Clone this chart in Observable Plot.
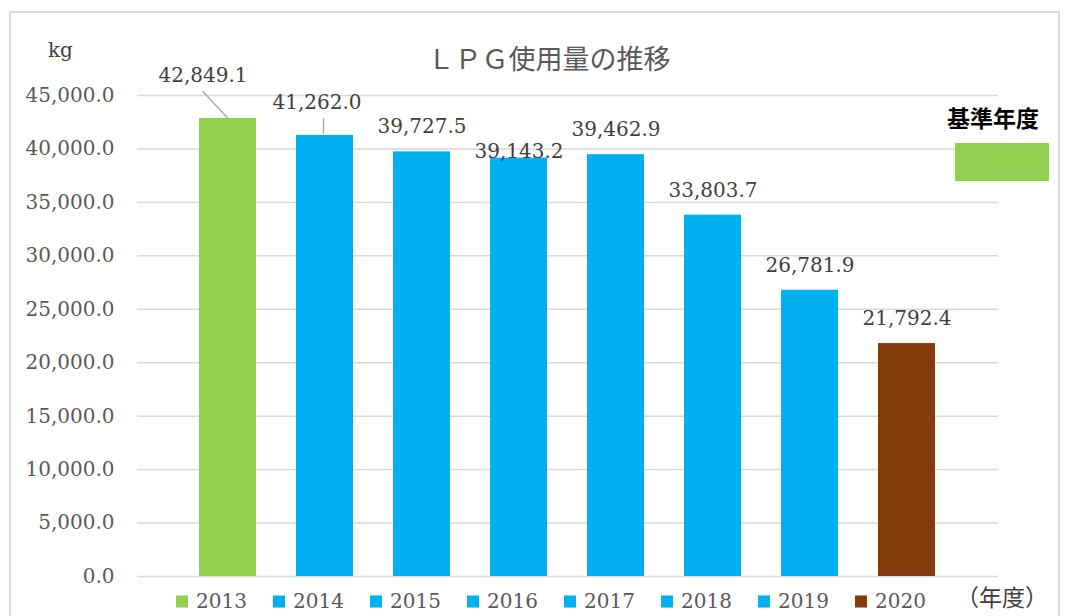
<!DOCTYPE html>
<html>
<head>
<meta charset="utf-8">
<script src="https://cdn.jsdelivr.net/npm/d3@7"></script>
<script src="https://cdn.jsdelivr.net/npm/@observablehq/plot@0.6"></script>
<style>
  html, body { margin: 0; padding: 0; background: #fff; }
  #wrap { position: relative; width: 1065px; height: 616px; overflow: hidden; }
  #border { position: absolute; left: 9px; top: 11px; width: 1051px; height: 640px; border: 2px solid #d9d9d9; box-sizing: border-box; }
  .abs { position: absolute; white-space: nowrap; }
  #title { left: 549px; top: 57px; transform: translate(-50%, -50%); font: 27px "Noto Sans CJK JP"; color: #595959; }
  #unit { left: 48px; top: 50px; transform: translateY(-50%); font-family: "DejaVu Serif"; font-size: 20px; color: #404040; }
  #base { left: 947px; top: 117px; transform: translateY(-50%); font: bold 23px "Noto Sans CJK JP"; color: #000; }
  #baseBox { left: 955px; top: 143px; width: 94px; height: 38px; background: #92d050; }
  #xunit { left: 956px; top: 596px; transform: translateY(-50%); font: 23px "Noto Sans CJK JP"; color: #404040; }
  #chart { position: absolute; left: 0; top: 0; }
</style>
</head>
<body>
<div id="wrap">
  <div id="border"></div>
  <div id="chart"></div>
  <div class="abs" id="title">ＬＰＧ使用量の推移</div>
  <div class="abs" id="unit">kg</div>
  <div class="abs" id="base">基準年度</div>
  <div class="abs" id="baseBox"></div>
  <div class="abs" id="xunit">（年度）</div>
</div>
<script>
const years = ["2013", "2014", "2015", "2016", "2017", "2018", "2019", "2020"];
const values = [42849.1, 41262.0, 39727.5, 39143.2, 39462.9, 33803.7, 26781.9, 21792.4];
const barColors = ["#92d050", "#00b0f0", "#00b0f0", "#00b0f0", "#00b0f0", "#00b0f0", "#00b0f0", "#843c0c"];
const yTicks = [0, 5000, 10000, 15000, 20000, 25000, 30000, 35000, 40000, 45000];

const data = years.map((year, i) => ({year, value: values[i], color: barColors[i]}));

// label placement (pixels) relative to the top of each bar
const labelOffsets = {"2013": [-25, -43], "2014": [-8, -33], "2016": [0, -7]};
const leaderLines = {"2013": [[0, 0], [-25, -27]], "2014": [[-1, -1], [-1, -17]]};

const fmt = d3.format(",.1f");

const labelMarks = data.map(d => {
  const [dx, dy] = labelOffsets[d.year] || [0, -25];
  return Plot.text([d], {
    x: "year", y: "value", text: e => fmt(e.value),
    dx, dy, fontSize: 20, fill: "#404040", lineAnchor: "middle"
  });
});

const plot = Plot.plot({
  width: 1065,
  height: 616,
  marginLeft: 137,
  marginRight: 67,
  marginTop: 95,
  marginBottom: 40,
  style: {fontFamily: "DejaVu Serif", background: "transparent", overflow: "visible"},
  x: {domain: years, paddingInner: 0.41, paddingOuter: 0.41, insetLeft: 22.5, insetRight: 22.5, axis: null},
  y: {domain: [0, 45000], axis: null, label: null},
  color: {type: "identity"},
  marks: [
    Plot.ruleY(yTicks, {stroke: "#d9d9d9", strokeWidth: 1.5}),
    Plot.axisY({ticks: yTicks, tickFormat: fmt, tickSize: 0, tickPadding: 23, fontSize: 20, fill: "#595959", label: null}),
    Plot.barY(data, {x: "year", y: "value", fill: "color"}),
    ...labelMarks,
    Plot.dot(data, {x: "year", frameAnchor: "bottom", symbol: "square", r: 6.8, fill: "color", stroke: null, dx: -46, dy: 25}),
    Plot.text(data, {x: "year", frameAnchor: "bottom", text: "year", textAnchor: "start", lineAnchor: "middle", dx: -32, dy: 25, fontSize: 20, fill: "#595959"})
  ]
});

document.getElementById("chart").appendChild(plot);

// leader lines drawn with the plot's own scales
const xs = plot.scale("x"), ys = plot.scale("y");
const svg = d3.select(plot);
data.forEach(d => {
  const seg = leaderLines[d.year];
  if (!seg) return;
  const cx = xs.apply(d.year) + xs.bandwidth / 2;
  const cy = ys.apply(d.value);
  svg.append("line")
    .attr("x1", cx + seg[0][0]).attr("y1", cy + seg[0][1])
    .attr("x2", cx + seg[1][0]).attr("y2", cy + seg[1][1])
    .attr("stroke", "#a6a6a6").attr("stroke-width", 1.3);
});
</script>
</body>
</html>
